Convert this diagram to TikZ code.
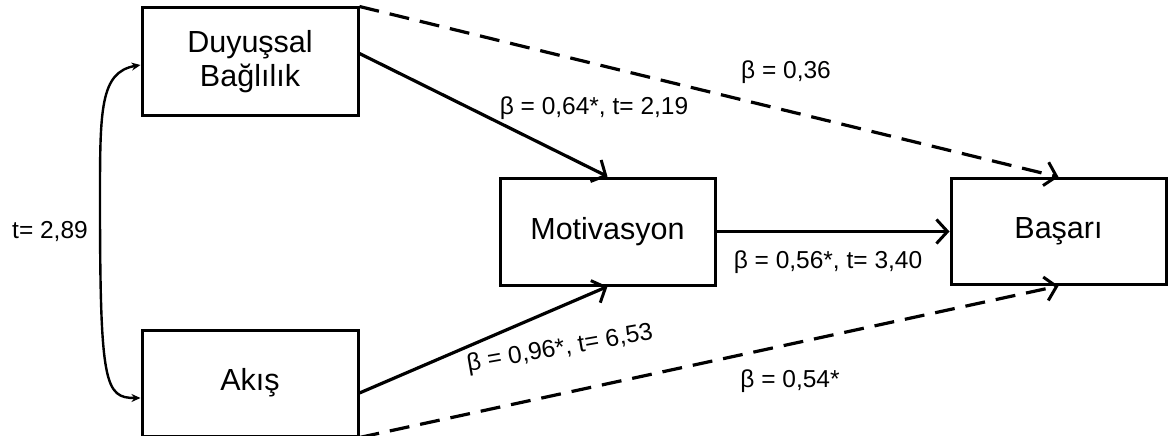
\documentclass[tikz,border=0pt]{standalone}
\usepackage{fontspec}
\setmainfont{Liberation Sans}
\usetikzlibrary{arrows.meta,calc}
\begin{document}
\begin{tikzpicture}[x=1pt,y=-1pt,
  box/.style={draw, line width=3pt, align=center, inner sep=0pt,
    font=\fontsize{30.5}{35}\selectfont},
  lbl/.style={font=\fontsize{24.5}{28}\selectfont, inner sep=0pt},
  path/.style={line width=3.2pt, -{Straight Barb[length=11pt,width=24pt,line width=3pt]}},
  dpath/.style={path, dash pattern=on 20pt off 11pt},
  corr/.style={line width=2.4pt, {Stealth[length=9pt,width=8pt]}-{Stealth[length=9pt,width=8pt]}}]
\useasboundingbox (0,0) rectangle (1168,436);
\node[box, minimum width=216pt, minimum height=107pt] (duy) at (250,61.5) {Duyuşsal\\[-1pt]Bağlılık};
\node[box, minimum width=216pt, minimum height=106pt] (akis) at (250,383) {Akış};
\node[box, minimum width=215pt, minimum height=107pt] (mot) at (607.5,231.5) {Motivasyon};
\node[box, minimum width=215pt, minimum height=106pt] (bas) at (1058.5,231.5) {Başarı};
\draw[path] ([yshift=8pt]duy.east) -- (mot.north);
\draw[path] ([yshift=-10pt]akis.east) -- (mot.south);
\draw[path] (mot.east) -- (bas.west);
\draw[dpath] (duy.north east) -- (bas.north);
\draw[dpath] (akis.south east) -- (bas.south);
\draw[corr] ([yshift=-3.5pt]duy.west) .. controls (100,72) and (100,110) .. (100,200)
  .. controls (100,385) and (105,398) .. ([yshift=-15pt]akis.west);
\node[lbl] (t289) at (50,232) {t= 2,89};
\node[lbl] (l1) at (594,108) {β = 0,64*, t= 2,19};
\node[lbl] (l2) at (786,72) {β = 0,36};
\node[lbl] (l3) at (828,262) {β = 0,56*, t= 3,40};
\node[lbl, rotate=10] (l4) at (560,349) {β = 0,96*, t= 6,53};
\node[lbl] (l5) at (790,381) {β = 0,54*};
\end{tikzpicture}
\end{document}
